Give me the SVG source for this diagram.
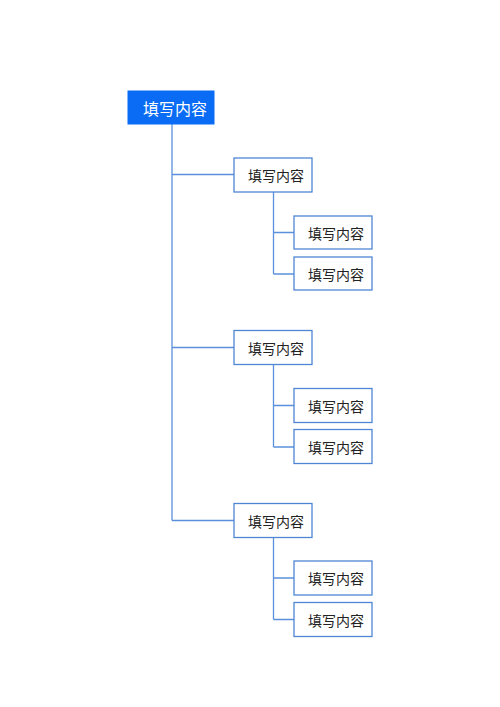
<svg xmlns="http://www.w3.org/2000/svg" width="500" height="707" viewBox="0 0 500 707">
<style>
.bg{fill:#ffffff}
.box{fill:#ffffff;stroke:#4f86d4;stroke-width:1.3}
.root{fill:#0a6cf5;stroke:#0a6cf5;stroke-width:1}
.conn{fill:none;stroke:#5b90dc;stroke-width:1.3}
.t{font-family:"Noto Sans CJK SC","Liberation Sans",sans-serif;font-size:14px;fill:#222222;text-anchor:middle;dominant-baseline:central}
.tr{font-family:"Noto Sans CJK SC","Liberation Sans",sans-serif;font-size:16px;fill:#ffffff;text-anchor:middle;dominant-baseline:central}
</style>
<rect class="bg" x="0" y="0" width="500" height="707"/>
<g id="connectors">
<path class="conn" d="M172 124 V520.5 M172 174.5 H234 M172 347.5 H234 M172 520.5 H234"/>
<path class="conn" d="M273.5 192 V274 M273.5 232.5 H294 M273.5 274 H294"/>
<path class="conn" d="M273.5 364.5 V447 M273.5 405.5 H294 M273.5 447 H294"/>
<path class="conn" d="M273.5 537.5 V619.5 M273.5 578 H294 M273.5 619.5 H294"/>
</g>
<g id="root"><rect class="root" x="128" y="91" width="86" height="33"/><text class="tr" x="175" y="107.5">填写内容</text></g>
<g id="c1"><rect class="box" x="234" y="158" width="78" height="34"/><text class="t" x="276" y="175">填写内容</text></g>
<g id="c1a"><rect class="box" x="294" y="216" width="78" height="33"/><text class="t" x="336" y="232.5">填写内容</text></g>
<g id="c1b"><rect class="box" x="294" y="257" width="78" height="33"/><text class="t" x="336" y="273.5">填写内容</text></g>
<g id="c2"><rect class="box" x="234" y="330.5" width="78" height="34"/><text class="t" x="276" y="347.5">填写内容</text></g>
<g id="c2a"><rect class="box" x="294" y="388.5" width="78" height="34"/><text class="t" x="336" y="405.5">填写内容</text></g>
<g id="c2b"><rect class="box" x="294" y="429.5" width="78" height="34"/><text class="t" x="336" y="446.5">填写内容</text></g>
<g id="c3"><rect class="box" x="234" y="503.5" width="78" height="34"/><text class="t" x="276" y="520.5">填写内容</text></g>
<g id="c3a"><rect class="box" x="294" y="561" width="78" height="34"/><text class="t" x="336" y="578">填写内容</text></g>
<g id="c3b"><rect class="box" x="294" y="602.5" width="78" height="34"/><text class="t" x="336" y="619.5">填写内容</text></g>
</svg>
